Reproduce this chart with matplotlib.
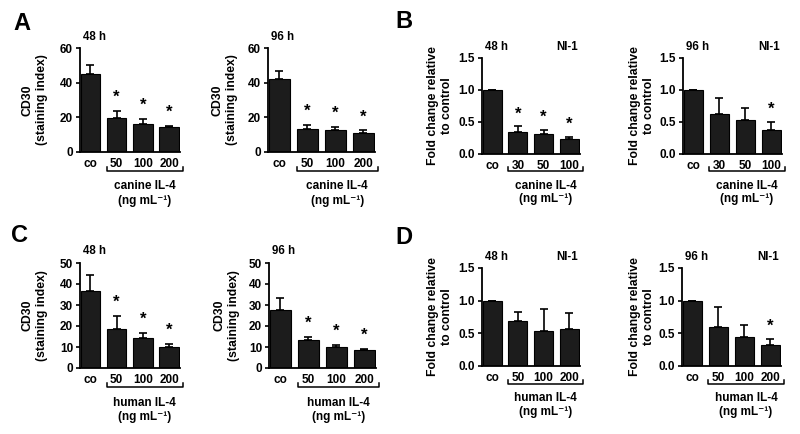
import numpy as np
import matplotlib
matplotlib.use("Agg")
import matplotlib.pyplot as plt
import matplotlib.transforms as mtransforms

plt.rcParams['font.family'] = ['Liberation Sans', 'DejaVu Sans']
plt.rcParams['font.weight'] = 'bold'

# ---- data ----
conc_canine_si = ['co', '50', '100', '200']
conc_canine_fc = ['co', '30', '50', '100']
conc_human = ['co', '50', '100', '200']

a48_mean = [45.0, 19.9, 15.9, 14.5]
a48_err = [5.3, 3.7, 3.4, 0.4]
a48_star = [False, True, True, True]

a96_mean = [41.9, 13.5, 12.5, 11.2]
a96_err = [4.8, 2.3, 1.9, 1.3]
a96_star = [False, True, True, True]

b48_mean = [1.0, 0.35, 0.31, 0.23]
b48_err = [0.0, 0.08, 0.07, 0.04]
b48_star = [False, True, True, True]

b96_mean = [1.0, 0.63, 0.53, 0.37]
b96_err = [0.0, 0.25, 0.19, 0.13]
b96_star = [False, False, False, True]

c48_mean = [36.9, 18.4, 14.1, 10.1]
c48_err = [7.2, 6.5, 2.7, 1.4]
c48_star = [False, True, True, True]

c96_mean = [27.6, 13.3, 10.1, 8.5]
c96_err = [5.6, 1.4, 0.8, 0.4]
c96_star = [False, True, True, True]

d48_mean = [1.0, 0.69, 0.54, 0.56]
d48_err = [0.0, 0.13, 0.34, 0.25]
d48_star = [False, False, False, False]

d96_mean = [1.0, 0.60, 0.45, 0.32]
d96_err = [0.0, 0.30, 0.18, 0.09]
d96_star = [False, False, False, True]

W, H = 800, 434
fig = plt.figure(figsize=(W / 100, H / 100), dpi=100)


def px_axes(l, t, r, b):
    return fig.add_axes([l / W, 1 - b / H, (r - l) / W, (b - t) / H])


def draw_panel(box, labels, means, errs, stars, ymax, yticks, ylabel,
               title, agent, cell_line=None, fmt='{:.0f}', lab_px=31):
    ax = px_axes(*box)
    x = np.arange(len(means))
    ax.bar(x, means, width=0.74, color='#1c1c1c', edgecolor='black', lw=0.8,
           zorder=2)
    lower = np.zeros(len(errs))
    ax.errorbar(x, means, yerr=[lower, errs], fmt='none', ecolor='black',
                elinewidth=1.2, capsize=3.2, capthick=1.2, zorder=1)
    for xi, m, e, s in zip(x, means, errs, stars):
        if s:
            ax.text(xi, m + e + 0.13 * ymax, '*', ha='center', va='center',
                    fontsize=12, fontweight='bold')
    ax.set_xlim(-0.4, len(means) - 0.58)
    ax.set_ylim(0, ymax)
    ax.set_yticks(yticks)
    ax.set_yticklabels([fmt.format(v) for v in yticks])
    ax.set_xticks(x)
    ax.set_xticklabels(labels)
    ax.tick_params(axis='x', length=0, pad=4, labelsize=8.5)
    ax.tick_params(axis='y', length=3, width=1.2, pad=2, labelsize=8.5)
    for sp in ['top', 'right']:
        ax.spines[sp].set_visible(False)
    for sp in ['left', 'bottom']:
        ax.spines[sp].set_linewidth(1.3)
    ax.set_ylabel(ylabel, fontsize=8.8, fontweight='bold', linespacing=1.25)
    ax.yaxis.set_label_coords(-lab_px / (box[2] - box[0]), 0.5)
    ax.text(0.03, 1.11, title, transform=ax.transAxes, ha='left',
            va='center', fontsize=8.3, fontweight='bold')
    if cell_line:
        ax.text(0.98, 1.11, cell_line, transform=ax.transAxes, ha='right',
                va='center', fontsize=8.3, fontweight='bold')
    # bracket under the treated groups
    tr = mtransforms.blended_transform_factory(ax.transData, ax.transAxes)
    x0, x1, yb = 0.62, len(means) - 0.48, -0.18
    ax.plot([x0, x0, x1, x1], [yb + 0.04, yb, yb, yb + 0.04], color='black',
            lw=1.1, transform=tr, clip_on=False)
    xc = (x0 + x1) / 2
    ax.text(xc, -0.33, agent, transform=tr, ha='center', va='center',
            fontsize=8.5, fontweight='bold')
    ax.text(xc, -0.47, '(ng mL\u207b\u00b9)', transform=tr,
            ha='center', va='center', fontsize=8.5, fontweight='bold')
    return ax


si_label = 'CD30\n(staining index)'
fc_label = 'Fold change relative\nto control'
fc_ticks = [0.0, 0.5, 1.0, 1.5]

draw_panel((80, 48, 180, 152), conc_canine_si, a48_mean, a48_err, a48_star,
           60, [0, 20, 40, 60], si_label, '48 h', 'canine IL-4', lab_px=32)
draw_panel((268, 48, 375, 152), conc_canine_si, a96_mean, a96_err, a96_star,
           60, [0, 20, 40, 60], si_label, '96 h', 'canine IL-4', lab_px=30)
draw_panel((482, 58, 580, 154), conc_canine_fc, b48_mean, b48_err, b48_star,
           1.5, fc_ticks, fc_label, '48 h', 'canine IL-4', 'NI-1', '{:.1f}',
           lab_px=29)
draw_panel((683, 58, 782, 154), conc_canine_fc, b96_mean, b96_err, b96_star,
           1.5, fc_ticks, fc_label, '96 h', 'canine IL-4', 'NI-1', '{:.1f}',
           lab_px=28)
draw_panel((80, 263, 180, 368), conc_human, c48_mean, c48_err, c48_star,
           50, [0, 10, 20, 30, 40, 50], si_label, '48 h', 'human IL-4',
           lab_px=32)
draw_panel((269, 263, 376, 368), conc_human, c96_mean, c96_err, c96_star,
           50, [0, 10, 20, 30, 40, 50], si_label, '96 h', 'human IL-4',
           lab_px=29)
draw_panel((482, 268, 580, 366), conc_human, d48_mean, d48_err, d48_star,
           1.5, fc_ticks, fc_label, '48 h', 'human IL-4', 'NI-1', '{:.1f}',
           lab_px=29)
draw_panel((682, 268, 781, 366), conc_human, d96_mean, d96_err, d96_star,
           1.5, fc_ticks, fc_label, '96 h', 'human IL-4', 'NI-1', '{:.1f}',
           lab_px=27)

for letter, xp, yp in [('A', 22, 24), ('B', 404, 22), ('C', 20, 236),
                       ('D', 404, 237)]:
    fig.text(xp / W, 1 - yp / H, letter, fontsize=17, fontweight='bold',
             ha='center', va='center')

fig.savefig('out.png', dpi=100)
